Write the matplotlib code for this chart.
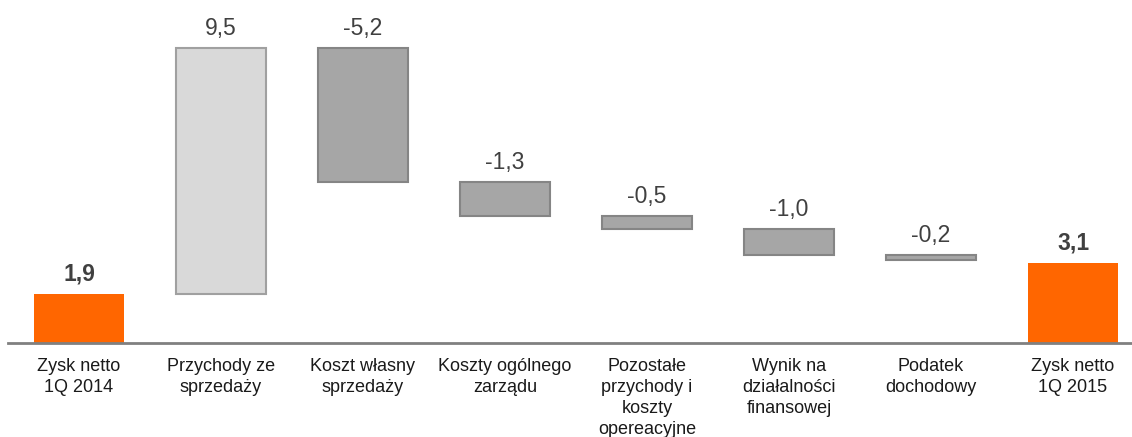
import matplotlib.pyplot as plt
import numpy as np

plt.rcParams['font.family'] = ['Liberation Sans', 'DejaVu Sans']

# data
categories = ['Zysk netto\n1Q 2014', 'Przychody ze\nsprzedaży', 'Koszt własny\nsprzedaży',
              'Koszty ogólnego\nzarządu', 'Pozostałe\nprzychody i\nkoszty\nopereacyjne',
              'Wynik na\ndziałalności\nfinansowej', 'Podatek\ndochodowy', 'Zysk netto\n1Q 2015']
values = [1.9, 9.5, -5.2, -1.3, -0.5, -1.0, -0.2, 3.1]
kinds = ['total', 'up', 'down', 'down', 'down', 'down', 'down', 'total']

orange = '#FF6600'
light = '#D9D9D9'
dark = '#A6A6A6'

fig = plt.figure(figsize=(11.32, 4.37), dpi=100)
ax = fig.add_axes([8 / 1132, 94 / 437, 1124 / 1132, 343 / 437])

x = np.arange(len(values))
running = 0.0
for i, (v, k) in enumerate(zip(values, kinds)):
    if k == 'total':
        running = v
        ax.bar(i, v, width=0.635, color=orange, edgecolor='none')
        ax.annotate('{:.1f}'.format(v).replace('.', ','), (i, v), xytext=(0, 9.5),
                    textcoords='offset points', ha='center', va='baseline',
                    fontsize=16.5, fontweight='bold', color='#404040')
        continue
    if v > 0:
        bottom = running
        fc, ec = light, '#A0A0A0'
    else:
        bottom = running + v
        fc, ec = dark, '#858585'
    ax.bar(i, abs(v), bottom=bottom, width=0.635, color=fc, edgecolor=ec, linewidth=1.5)
    top = bottom + abs(v)
    ax.annotate('{:.1f}'.format(v).replace('.', ','), (i, top), xytext=(0, 9.5),
                textcoords='offset points', ha='center', va='baseline',
                fontsize=16.5, color='#404040')
    running += v

ax.set_xlim(-0.5, -0.5 + 1124 / 142)
ax.set_ylim(0, 343 / 25.9)
ax.set_xticks(x)
ax.set_xticklabels(categories, fontsize=13, color='#1A1A1A', linespacing=1.3)
ax.tick_params(axis='x', length=0, pad=11)
ax.set_yticks([])
for s in ['top', 'right', 'left']:
    ax.spines[s].set_visible(False)
ax.spines['bottom'].set_color('#808080')
ax.spines['bottom'].set_linewidth(2)
ax.patch.set_alpha(0)

plt.savefig('out.png', dpi=100)
